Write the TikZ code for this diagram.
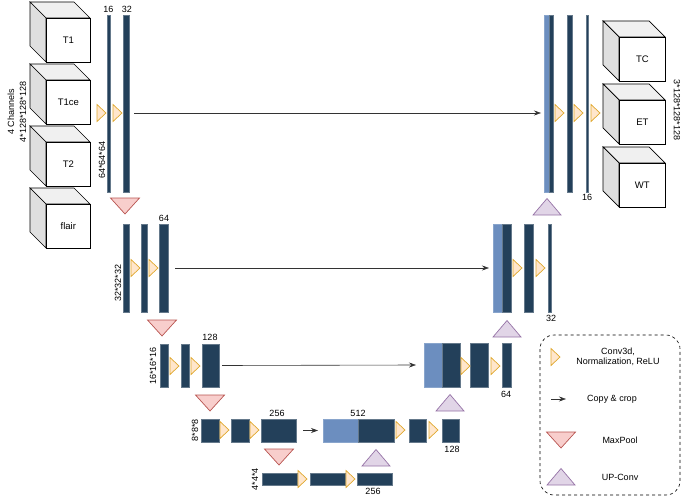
\documentclass[tikz,border=0pt]{standalone}
\usepackage{fontspec}
\setmainfont{Liberation Sans}
\usetikzlibrary{arrows.meta}
\definecolor{dk}{HTML}{23405A}
\definecolor{lt}{HTML}{6C8EBF}
\definecolor{yf}{HTML}{FFE6CC}
\definecolor{ys}{HTML}{E0A82E}
\definecolor{pf}{HTML}{F8CECC}
\definecolor{ps}{HTML}{B85450}
\definecolor{uf}{HTML}{E1D5E7}
\definecolor{us}{HTML}{9673A6}
\tikzset{
 dkbar/.style={fill=dk,draw=dk!70,line width=0.3pt,inner sep=0,outer sep=0},
 ltbar/.style={fill=lt,draw=lt!80,line width=0.3pt,inner sep=0,outer sep=0},
 lbl/.style={font=\fontsize{9}{10}\selectfont,inner sep=0},
 conn/.style={-{Stealth[length=7pt,width=5pt]},line width=0.6pt,black!80},
 ytri/.style={fill=yf,draw=ys,line width=0.7pt},
 ptri/.style={fill=pf,draw=ps,line width=0.7pt},
 utri/.style={fill=uf,draw=us,line width=0.7pt},
 pics/yt/.style={code={\draw[ytri] (-4,-8.5) -- (5,0) -- (-4,8.5) -- cycle;}},
 pics/mp/.style={code={\draw[ptri] (-14.5,-8) -- (14.5,-8) -- (0,8) -- cycle;}},
 pics/uc/.style={code={\draw[utri] (-14,8) -- (14,8) -- (0,-8.5) -- cycle;}},
}
\newcommand\mycube[5]{% x y w name text
 \fill[gray!12,draw=black,line width=0.7pt] (#1,#2) -- (#1-16,#2-16) -- (#1+#3-16,#2-16) -- (#1+#3,#2) -- cycle;
 \fill[gray!25,draw=black,line width=0.7pt] (#1,#2) -- (#1-16,#2-16) -- (#1-16,#2+28) -- (#1,#2+44) -- cycle;
 \node[draw=black,fill=white,line width=0.7pt,minimum width=#3,minimum height=44,inner sep=0,anchor=north west,font=\fontsize{9.5}{10}\selectfont] (#4) at (#1,#2) {#5};
}
\newcommand\mybar[6]{% style x1 y1 x2 y2 name
 \node[#1,minimum width={#4-#2},minimum height={#5-#3}] (#6) at ({(#2+#4)/2},{(#3+#5)/2}) {};
}
\begin{document}
\begin{tikzpicture}[x=1pt,y=-1pt]
\useasboundingbox (0,0) rectangle (685,500);
% input cubes
\mycube{46}{18}{44}{t1}{T1}
\mycube{46}{80}{44}{t1ce}{T1ce}
\mycube{46}{142}{44}{t2}{T2}
\mycube{46}{204}{44}{flair}{flair}
\node[lbl,rotate=90] at (11,112) {4 Channels};
\node[lbl,rotate=90] at (23,112) {4*128*128*128};
% level 1
\mybar{dkbar}{107}{15}{110}{192}{a1}
\mybar{dkbar}{123}{15}{129}{192}{a2}
\node[lbl] at (108.5,9) {16};
\node[lbl] at (127,9) {32};
\pic at (101,113) {yt};
\pic at (117,113) {yt};
\node[lbl,rotate=90] at (102,160) {64*64*64};
\pic at (125,206) {mp};
% level 2
\mybar{dkbar}{123}{224}{129}{312}{b1}
\mybar{dkbar}{141}{224}{147}{312}{b2}
\mybar{dkbar}{159}{224}{168}{312}{b3}
\node[lbl] at (164,218) {64};
\pic at (135,268) {yt};
\pic at (153,268) {yt};
\node[lbl,rotate=90] at (118,283) {32*32*32};
\pic at (162,328) {mp};
% level 3
\mybar{dkbar}{160}{344}{168}{387}{c1}
\mybar{dkbar}{181}{344}{189}{387}{c2}
\mybar{dkbar}{202}{344}{219}{387}{c3}
\node[lbl] at (210,337) {128};
\pic at (174,366) {yt};
\pic at (195,366) {yt};
\node[lbl,rotate=90] at (153,366) {16*16*16};
\pic at (210,403) {mp};
% level 4
\mybar{dkbar}{201}{419}{219}{442}{d1}
\mybar{dkbar}{231}{419}{249}{442}{d2}
\mybar{dkbar}{261}{419}{296}{442}{d3}
\node[lbl] at (277,413) {256};
\pic at (224,430) {yt};
\pic at (254,430) {yt};
\node[lbl,rotate=90] at (195,430) {8*8*8};
\pic at (279,457) {mp};
% level 5
\mybar{dkbar}{262}{473}{297}{485}{e1}
\mybar{dkbar}{310}{473}{345}{485}{e2}
\mybar{dkbar}{357}{473}{392}{485}{e3}
\node[lbl] at (373,491) {256};
\pic at (302,479) {yt};
\pic at (350,479) {yt};
\node[lbl,rotate=90] at (255,479) {4*4*4};
\pic at (376,458) {uc};
% right level 4
\mybar{ltbar}{323}{419}{358}{442}{f0}
\mybar{dkbar}{358}{419}{394}{442}{f1}
\mybar{dkbar}{409}{419}{426}{442}{f2}
\mybar{dkbar}{442}{419}{459}{442}{f3}
\node[lbl] at (358,413) {512};
\node[lbl] at (452,449) {128};
\pic at (400,430) {yt};
\pic at (433,430) {yt};
\pic at (450,403) {uc};
% right level 3
\mybar{ltbar}{424}{343}{442}{387}{g0}
\mybar{dkbar}{442}{343}{460}{387}{g1}
\mybar{dkbar}{470}{343}{488}{387}{g2}
\mybar{dkbar}{502}{343}{511}{387}{g3}
\node[lbl] at (506,394) {64};
\pic at (465,366) {yt};
\pic at (495,366) {yt};
\pic at (507,329) {uc};
% right level 2
\mybar{ltbar}{493}{224}{502}{312}{h0}
\mybar{dkbar}{502}{224}{511}{312}{h1}
\mybar{dkbar}{524}{224}{533}{312}{h2}
\mybar{dkbar}{548}{224}{551}{312}{h3}
\node[lbl] at (551,318) {32};
\pic at (517,268) {yt};
\pic at (540,268) {yt};
\pic at (547,207) {uc};
% right level 1
\mybar{ltbar}{544}{15}{549}{192}{i0}
\mybar{dkbar}{549}{15}{553}{192}{i1}
\mybar{dkbar}{567}{15}{572}{192}{i2}
\mybar{dkbar}{586}{15}{588}{192}{i3}
\node[lbl] at (587,197) {16};
\pic at (559,113) {yt};
\pic at (578,113) {yt};
\pic at (595,113) {yt};
% output cubes
\mycube{619}{37}{46}{tc}{TC}
\mycube{619}{100}{46}{et}{ET}
\mycube{619}{163}{46}{wt}{WT}
\node[lbl,rotate=-90] at (677,110) {3*128*128*128};
% skip connections
\draw[conn] ([xshift=5pt]a2.east |- 0,113) -- ([xshift=-3pt]i0.west |- 0,113);
\draw[conn] ([xshift=7pt]b3.east) -- ([xshift=-4pt]h0.west);
\draw[conn] ([xshift=3pt]c3.east) -- ([xshift=-8pt]g0.west);
\draw[conn] ([xshift=7pt]d3.east) -- ([xshift=-5pt]f0.west);
% legend
\draw[dashed,rounded corners=14pt,line width=0.6pt] (540,335) rectangle (680,495);
\pic at (555,357) {yt};
\node[lbl,align=center] at (618,357) {Conv3d,\\Normalization, ReLU};
\coordinate (la) at (551,399);
\coordinate (lb) at (566,399);
\draw[conn] (la) -- (lb);
\node[lbl] at (612,399) {Copy \& crop};
\pic at (561,440) {mp};
\node[lbl] at (620,440) {MaxPool};
\pic at (561,477) {uc};
\node[lbl] at (620,477) {UP-Conv};
\end{tikzpicture}
\end{document}
